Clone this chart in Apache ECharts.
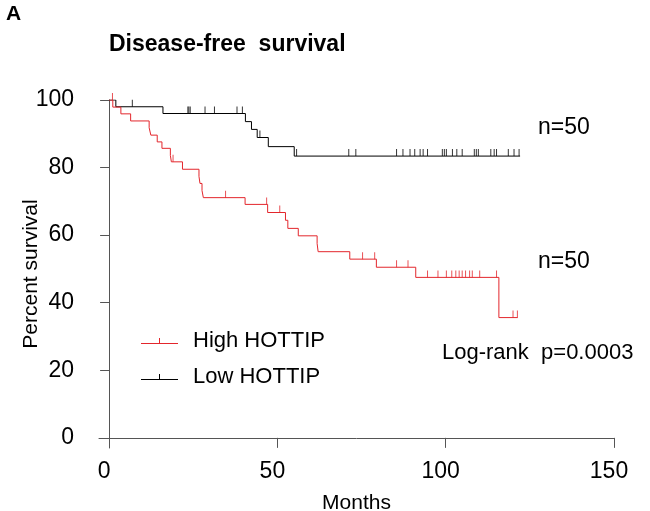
<!DOCTYPE html>
<html>
<head>
<meta charset="utf-8">
<script src="https://cdn.jsdelivr.net/npm/echarts@6/dist/echarts.min.js"></script>
<style>
  html, body { margin: 0; padding: 0; background: #fff; }
  #chart { width: 650px; height: 511px; }
</style>
</head>
<body>
<div id="chart"></div>
<script>
// ---- data ----
const xTicks = [0, 50, 100, 150];
const yTicks = [0, 20, 40, 60, 80, 100];

const highTimes  = [0, 1.1, 3.5, 6.4, 11.9, 12.4, 14.3, 15.7, 18.2, 18.5, 21.8, 26.7, 27, 27.6, 28, 40.4, 47.1, 52.4, 53.1, 56.2, 61.8, 62.1, 71.5, 79.4, 91.1, 115.8, 121.4];
const highLevels = [100, 97.9, 95.9, 93.8, 91.8, 89.6, 87.6, 85.7, 83.6, 81.7, 79.5, 77.4, 75.3, 73.2, 71.1, 69.1, 66.7, 64.4, 62.0, 59.8, 57.5, 55.1, 52.9, 50.5, 47.5, 35.6, 35.6];
const highCensor = [1.0, 19.0, 34.6, 46.8, 50.7, 75.3, 78.9, 85.4, 88.8, 94.6, 97.7, 100.2, 101.8, 103, 104, 104.9, 105.9, 107.1, 107.9, 110.1, 115.1, 120, 121.3];

const lowTimes  = [0, 2, 16, 40.5, 42.3, 44, 47.3, 55, 122.1];
const lowLevels = [100, 98, 96, 93.6, 91.3, 88.9, 86.2, 83.4, 83.4];
const lowCensor = [6.9, 23.4, 23.7, 24.1, 28.5, 31.3, 38, 39.6, 44.8, 55.7, 71.2, 73.3, 85.4, 87.3, 89.4, 90.8, 92.4, 93.3, 94.6, 99, 99.6, 100.2, 102, 103.3, 104.9, 108.5, 109.1, 109.7, 113.4, 114.4, 115.1, 118.6, 120.3, 121.8];

const seriesNames = ['High HOTTIP', 'Low HOTTIP'];
const colors = ['#e3262c', '#000000'];

// ---- helpers ----
function stepData(times, levels) { return times.map((t, i) => [t, levels[i]]); }
function levelAt(times, levels, t) {
  let v = levels[0];
  for (let i = 0; i < times.length; i++) { if (times[i] <= t) v = levels[i]; }
  return v;
}
function censorData(cens, times, levels) { return cens.map(t => [t, levelAt(times, levels, t)]); }

const FONT = 'Liberation Sans, Arial, Helvetica, sans-serif';
const legendIcon = 'path://M0,5h37v1h-37z M18,0h1v5h-1z';

const chart = echarts.init(document.getElementById('chart'), null, { renderer: 'canvas' });
chart.setOption({
  animation: false,
  backgroundColor: '#fff',
  title: [
    { text: 'A', left: 1, top: -1, textStyle: { fontFamily: FONT, fontWeight: 'bold', fontSize: 21, color: '#000' } },
    { text: 'Disease-free  survival', left: 104, top: 28, textStyle: { fontFamily: FONT, fontWeight: 'bold', fontSize: 23, color: '#000' } }
  ],
  grid: { left: 99, right: 36, top: 100, bottom: 63, containLabel: false, outerBoundsMode: 'none' },
  legend: {
    data: seriesNames,
    orient: 'vertical',
    left: 136, top: 325,
    itemWidth: 37, itemHeight: 6,
    itemGap: 14,
    icon: legendIcon,
    textStyle: { fontFamily: FONT, fontSize: 22, color: '#000', padding: [0, 0, 0, 10] },
    selectedMode: false
  },
  xAxis: {
    type: 'value', min: -3, max: 150,
    name: 'Months', nameLocation: 'middle', nameGap: 45, nameMoveOverlap: false,
    nameTextStyle: { fontFamily: FONT, fontSize: 21, color: '#000' },
    axisLine: { onZero: true, lineStyle: { color: '#555', width: 1 } },
    axisTick: { show: true, length: 10, inside: false, customValues: xTicks, lineStyle: { color: '#555' } },
    axisLabel: { customValues: xTicks, margin: 12, fontFamily: FONT, fontSize: 23, color: '#000', padding: [0, 10, 0, 0] },
    splitLine: { show: false }
  },
  yAxis: {
    type: 'value', min: -3, max: 100,
    name: 'Percent survival', nameLocation: 'middle', nameGap: 57, nameRotate: 90, nameMoveOverlap: false,
    nameTextStyle: { fontFamily: FONT, fontSize: 21, color: '#000' },
    axisLine: { onZero: true, lineStyle: { color: '#555', width: 1 } },
    axisTick: { show: true, length: 9, inside: false, customValues: yTicks, lineStyle: { color: '#555' } },
    axisLabel: { customValues: yTicks, margin: 25, fontFamily: FONT, fontSize: 23, color: '#000' },
    splitLine: { show: false }
  },
  series: [
    {
      name: seriesNames[0], type: 'line', step: 'end', showSymbol: false,
      color: colors[0], lineStyle: { color: colors[0], width: 1 },
      data: stepData(highTimes, highLevels), z: 3
    },
    {
      name: seriesNames[1], type: 'line', step: 'end', showSymbol: false,
      color: colors[1], lineStyle: { color: colors[1], width: 1 },
      data: stepData(lowTimes, lowLevels), z: 2
    },
    {
      name: seriesNames[0] + ' censored', type: 'scatter', symbol: 'rect', symbolSize: [1, 7],
      symbolOffset: [0, '-50%'], itemStyle: { color: colors[0] },
      data: censorData(highCensor, highTimes, highLevels), z: 4
    },
    {
      name: seriesNames[1] + ' censored', type: 'scatter', symbol: 'rect', symbolSize: [1, 7],
      symbolOffset: [0, '-50%'], itemStyle: { color: colors[1] },
      data: censorData(lowCensor, lowTimes, lowLevels), z: 4
    }
  ],
  graphic: [
    { type: 'text', left: 538, top: 116, style: { text: 'n=50', font: '23px ' + FONT, fill: '#000' } },
    { type: 'text', left: 538, top: 250, style: { text: 'n=50', font: '23px ' + FONT, fill: '#000' } },
    { type: 'text', left: 442, top: 342, style: { text: 'Log-rank  p=0.0003', font: '22px ' + FONT, fill: '#000' } }
  ]
});
</script>
</body>
</html>
